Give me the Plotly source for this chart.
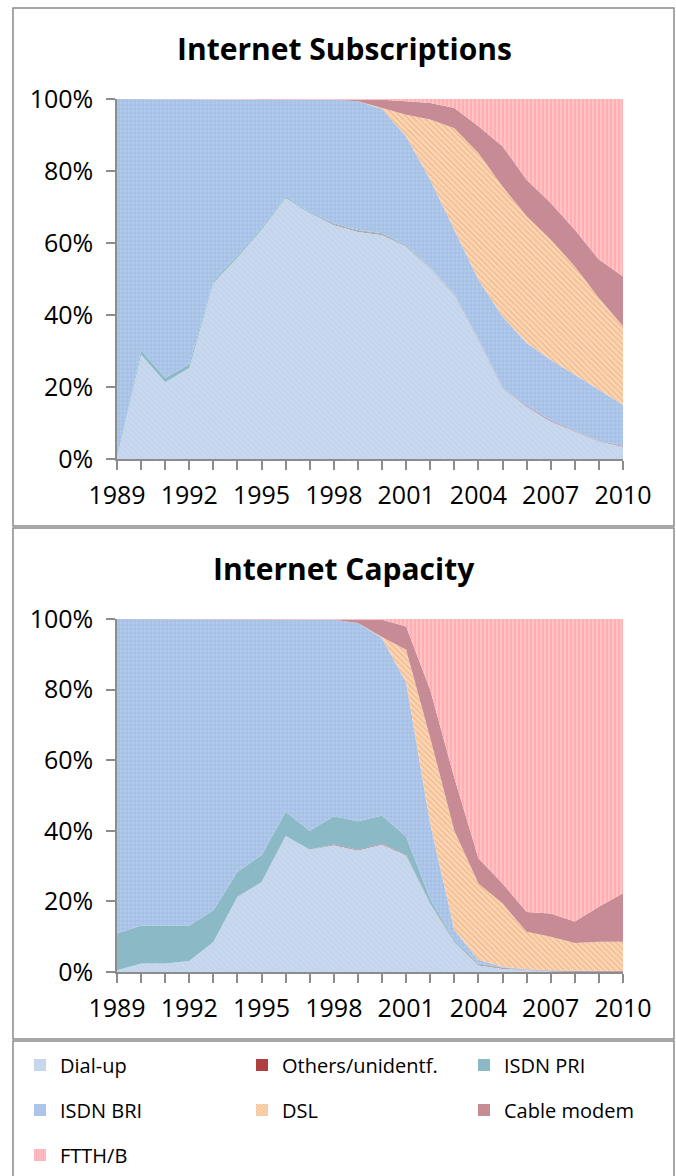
import plotly.graph_objects as go
from plotly.subplots import make_subplots

years = list(range(1989, 2011))

series_names = ["Dial-up", "Others/unidentf.", "ISDN PRI", "ISDN BRI", "DSL", "Cable modem", "FTTH/B"]

# Internet Subscriptions (% share)
sub_dialup = [0, 29.0, 21.3, 25.3, 48.9, 56.0, 63.7, 72.5, 68.3, 65.1, 63.2, 62.3, 59.1, 53.1, 45.6, 33.1, 19.7, 14.6, 10.5, 7.7, 4.9, 3.5]
sub_others = [0, 0, 0, 0, 0, 0, 0, 0, 0, 0.1, 0.1, 0.1, 0.1, 0.1, 0.1, 0.1, 0.1, 0.1, 0.1, 0.1, 0.1, 0.1]
sub_pri    = [0, 1.2, 1.2, 1.0, 0.6, 0.5, 0.5, 0.4, 0.4, 0.3, 0.3, 0.3, 0.3, 0.2, 0.2, 0.2, 0.1, 0.1, 0.1, 0.1, 0.1, 0.1]
sub_bri    = [100, 69.8, 77.5, 73.7, 50.5, 43.5, 35.8, 27.1, 31.3, 34.3, 35.8, 34.5, 30.1, 24.2, 17.8, 16.4, 19.7, 17.4, 16.9, 15.5, 14.2, 11.4]
sub_dsl    = [0, 0, 0, 0, 0, 0, 0, 0, 0, 0, 0, 0.3, 6.0, 16.7, 28.2, 35.2, 36.1, 35.2, 33.3, 30.1, 25.4, 21.8]
sub_cable  = [0, 0, 0, 0, 0, 0, 0, 0, 0, 0.2, 0.5, 2.3, 3.8, 4.6, 5.6, 7.4, 11.2, 10.2, 10.2, 10.2, 10.7, 13.8]
sub_ftth   = [0, 0, 0, 0, 0, 0, 0, 0, 0, 0, 0.1, 0.2, 0.6, 1.1, 2.5, 7.6, 13.1, 22.4, 28.9, 36.3, 44.6, 49.3]

# Internet Capacity (% share)
cap_dialup = [0.5, 2.4, 2.4, 3.1, 8.5, 21.3, 25.5, 38.5, 34.7, 36.0, 34.5, 36.2, 33.1, 19.4, 8.5, 2.0, 1.0, 0.5, 0.2, 0.1, 0.1, 0.1]
cap_others = [0, 0, 0, 0, 0, 0, 0, 0, 0, 0.1, 0.1, 0.1, 0.1, 0.1, 0.1, 0.1, 0.1, 0.1, 0.1, 0.1, 0.1, 0.1]
cap_pri    = [10.4, 10.8, 10.8, 10.1, 9.0, 7.1, 7.6, 6.9, 5.3, 8.0, 8.1, 8.0, 5.2, 1.1, 0.5, 0.3, 0.2, 0.1, 0.1, 0.1, 0.05, 0.05]
cap_bri    = [89.1, 86.8, 86.8, 86.8, 82.5, 71.6, 66.9, 54.6, 60.0, 55.7, 56.2, 50.3, 43.6, 21.4, 2.9, 1.1, 0.2, 0.1, 0.1, 0.1, 0.05, 0.05]
cap_dsl    = [0, 0, 0, 0, 0, 0, 0, 0, 0, 0, 0, 0.3, 9.3, 24.3, 28.0, 21.6, 17.9, 10.6, 9.5, 7.8, 8.3, 8.3]
cap_cable  = [0, 0, 0, 0, 0, 0, 0, 0, 0, 0.2, 0.9, 4.9, 6.6, 13.6, 15.0, 7.1, 5.7, 5.6, 6.6, 6.1, 9.9, 13.7]
cap_ftth   = [0, 0, 0, 0, 0, 0, 0, 0, 0, 0, 0.2, 0.2, 2.1, 20.1, 45.0, 67.8, 74.9, 83.0, 83.4, 85.8, 81.6, 77.8]

y_ticks = [0, 20, 40, 60, 80, 100]
x_tick_labels = {1989: "1989", 1992: "1992", 1995: "1995", 1998: "1998", 2001: "2001", 2004: "2004", 2007: "2007", 2010: "2010"}

styles = {
    "Dial-up":          dict(bg="#c8d8ee", fg="#b4c9e5", shape="\\", size=4, solidity=0.25),
    "Others/unidentf.": dict(bg="#b0403f", fg="#b0403f", shape="", size=4, solidity=0.3),
    "ISDN PRI":         dict(bg="#8bbac6", fg="#7eafbc", shape="", size=4, solidity=0.3),
    "ISDN BRI":         dict(bg="#b1c9ea", fg="#8aacdb", shape="+", size=4, solidity=0.3),
    "DSL":              dict(bg="#fbd7b6", fg="#eca16a", shape="\\", size=4, solidity=0.4),
    "Cable modem":      dict(bg="#c68b95", fg="#bb7f8a", shape="", size=4, solidity=0.3),
    "FTTH/B":           dict(bg="#ffc2c5", fg="#ff949b", shape="|", size=4, solidity=0.45),
}

W, H = 676, 1176

def px_x(v):
    return v / W

def px_y(v):
    return 1 - v / H

fig = make_subplots(rows=2, cols=1)

sub_data = [sub_dialup, sub_others, sub_pri, sub_bri, sub_dsl, sub_cable, sub_ftth]
cap_data = [cap_dialup, cap_others, cap_pri, cap_bri, cap_dsl, cap_cable, cap_ftth]

for row, data, grp in [(1, sub_data, "sub"), (2, cap_data, "cap")]:
    for name, vals in zip(series_names, data):
        st = styles[name]
        fp = dict(shape=st["shape"], fgcolor=st["fg"], bgcolor=st["bg"], size=st["size"], solidity=st["solidity"])
        fig.add_trace(go.Scatter(
            x=years, y=vals, name=name, mode="lines",
            line=dict(width=0, color=st["bg"]),
            stackgroup=grp, groupnorm="percent",
            fillcolor=st["bg"], fillpattern=fp,
            showlegend=False, hoverinfo="skip",
        ), row=row, col=1)

# legend entries (three rows)
legend_rows = {"Dial-up": "legend", "Others/unidentf.": "legend", "ISDN PRI": "legend",
               "ISDN BRI": "legend2", "DSL": "legend2", "Cable modem": "legend2",
               "FTTH/B": "legend3"}
for name in series_names:
    st = styles[name]
    fig.add_trace(go.Bar(
        x=[None], y=[None], name=name,
        marker=dict(color=st["bg"], line=dict(width=0),
                    pattern=dict(shape=st["shape"], fgcolor=st["fg"], bgcolor=st["bg"], size=3, solidity=st["solidity"])),
        showlegend=True, legend=legend_rows[name],
    ), row=1, col=1)

axis_font = dict(family="Open Sans", size=25, color="#000000")
xdom = [px_x(117), px_x(623)]
common_x = dict(range=[1989, 2010], tickmode="array", tickvals=years,
                ticktext=[x_tick_labels.get(y, "") for y in years],
                ticks="outside", ticklen=9, tickwidth=1.5, tickcolor="#8c8c8c",
                showline=True, linecolor="#8c8c8c", linewidth=1.5,
                showgrid=False, zeroline=False, tickfont=axis_font, domain=xdom,
                ticklabelstandoff=4, automargin=False)
common_y = dict(range=[0, 100], tickmode="array", tickvals=y_ticks,
                ticktext=[f"{v}%" for v in y_ticks],
                ticks="outside", ticklen=9, tickwidth=1.5, tickcolor="#8c8c8c",
                showline=True, linecolor="#8c8c8c", linewidth=1.5,
                showgrid=False, zeroline=False, tickfont=axis_font,
                ticklabelstandoff=8, automargin=False)

fig.update_xaxes(**common_x)
fig.update_yaxes(**common_y)
fig.update_layout(
    xaxis=dict(domain=xdom, anchor="y"),
    xaxis2=dict(domain=xdom, anchor="y2"),
    yaxis=dict(domain=[px_y(459), px_y(99)], anchor="x"),
    yaxis2=dict(domain=[px_y(972), px_y(619)], anchor="x2"),
)

leg_common = dict(orientation="h", xanchor="left", yanchor="middle",
                  traceorder="normal",
                  font=dict(family="Open Sans", size=20, color="#000000"),
                  entrywidth=177, entrywidthmode="pixels",
                  bgcolor="rgba(0,0,0,0)", itemclick=False, itemdoubleclick=False)
fig.update_layout(
    legend=dict(x=px_x(20), y=px_y(1065), **leg_common),
    legend2=dict(x=px_x(20), y=px_y(1110), **leg_common),
    legend3=dict(x=px_x(20), y=px_y(1155), **leg_common),
)

# frames
frame_line = dict(color="#8a8a8a", width=1.5)
for (y0, y1) in [(8, 526), (528, 1039), (1041, 1190)]:
    fig.add_shape(type="rect", xref="paper", yref="paper",
                  x0=px_x(13), x1=px_x(674), y0=px_y(y1), y1=px_y(y0),
                  line=frame_line, fillcolor="rgba(0,0,0,0)", layer="below")

title_font = dict(family="Open Sans", size=30, color="#000000", weight="bold")
fig.add_annotation(text="Internet Subscriptions", xref="paper", yref="paper",
                   x=px_x(344), y=px_y(48), xanchor="center", yanchor="middle",
                   showarrow=False, font=title_font)
fig.add_annotation(text="Internet Capacity", xref="paper", yref="paper",
                   x=px_x(344), y=px_y(568), xanchor="center", yanchor="middle",
                   showarrow=False, font=title_font)

fig.update_layout(
    width=W, height=H, margin=dict(l=0, r=0, t=0, b=0, autoexpand=False),
    paper_bgcolor="#ffffff", plot_bgcolor="#ffffff",
    barmode="stack", showlegend=True,
)

fig.write_html("out.html")
